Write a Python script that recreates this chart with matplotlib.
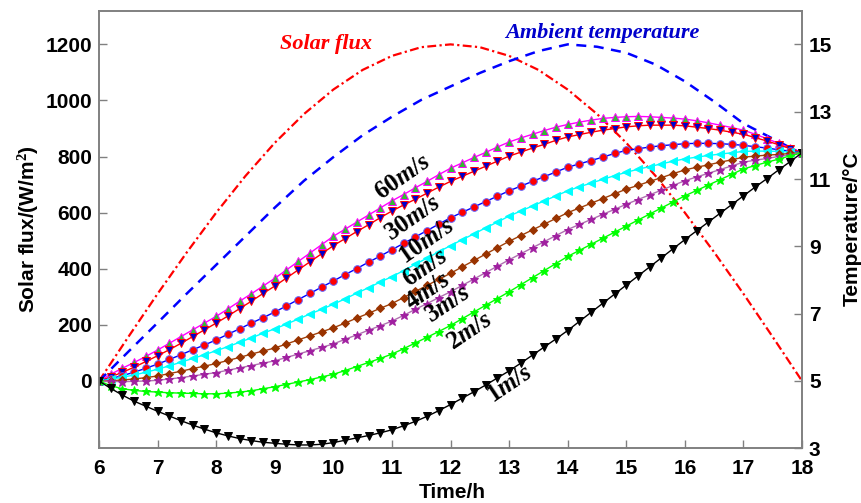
import matplotlib.pyplot as plt

# time axis (h)
hours = [6 + 0.2 * i for i in range(61)]
hours_half = [6 + 0.5 * i for i in range(25)]

# solar flux (W/m2), read every 0.5 h
solar = [0, 157, 311, 459, 600, 731, 849, 952, 1039, 1109, 1159, 1190, 1200,
         1190, 1159, 1109, 1039, 952, 849, 731, 600, 459, 311, 157, 0]

# ambient temperature (C), read every 0.5 h
ambient = [5.0, 5.87, 6.73, 7.6, 8.45, 9.3, 10.15, 10.95, 11.65, 12.3, 12.85, 13.35, 13.75,
           14.15, 14.5, 14.8, 15.0, 14.93, 14.75, 14.4, 13.9, 13.3, 12.65, 12.2, 11.75]

# temperatures for each wind speed, read every 0.2 h
t60 = [5.0, 5.2, 5.38, 5.55, 5.73, 5.92, 6.12, 6.32, 6.52, 6.72, 6.92,
       7.14, 7.37, 7.59, 7.82, 8.05, 8.3, 8.55, 8.8, 9.05, 9.3,
       9.51, 9.72, 9.93, 10.14, 10.35, 10.54, 10.74, 10.93, 11.13, 11.32,
       11.48, 11.64, 11.79, 11.95, 12.1, 12.22, 12.33, 12.44, 12.54, 12.62,
       12.69, 12.75, 12.8, 12.83, 12.85, 12.86, 12.85, 12.83, 12.81, 12.78,
       12.73, 12.67, 12.6, 12.53, 12.45, 12.33, 12.2, 12.06, 11.92, 11.78]
t30 = [5.0, 5.12, 5.26, 5.41, 5.58, 5.75, 5.93, 6.12, 6.32, 6.52, 6.72,
       6.93, 7.15, 7.37, 7.6, 7.82, 8.06, 8.3, 8.54, 8.78, 9.02,
       9.23, 9.44, 9.64, 9.85, 10.05, 10.23, 10.4, 10.58, 10.76, 10.93,
       11.08, 11.23, 11.38, 11.53, 11.68, 11.8, 11.92, 12.03, 12.15, 12.25,
       12.32, 12.39, 12.45, 12.5, 12.55, 12.58, 12.6, 12.6, 12.6, 12.58,
       12.54, 12.5, 12.45, 12.39, 12.33, 12.23, 12.13, 12.02, 11.9, 11.78]
t10 = [5.0, 5.07, 5.16, 5.26, 5.38, 5.5, 5.64, 5.78, 5.93, 6.07, 6.22,
       6.39, 6.55, 6.72, 6.88, 7.05, 7.23, 7.42, 7.6, 7.79, 7.97,
       8.16, 8.34, 8.53, 8.71, 8.9, 9.09, 9.28, 9.47, 9.66, 9.85,
       10.01, 10.17, 10.33, 10.49, 10.65, 10.79, 10.93, 11.07, 11.21, 11.35,
       11.45, 11.55, 11.65, 11.76, 11.85, 11.9, 11.95, 11.99, 12.02, 12.05,
       12.06, 12.06, 12.05, 12.03, 12.0, 11.96, 11.92, 11.87, 11.83, 11.78]
t6 = [5.0, 5.05, 5.11, 5.18, 5.26, 5.35, 5.45, 5.56, 5.67, 5.78, 5.9,
      6.02, 6.15, 6.28, 6.42, 6.55, 6.69, 6.84, 6.99, 7.13, 7.28,
      7.44, 7.61, 7.77, 7.94, 8.1, 8.28, 8.47, 8.65, 8.84, 9.02,
      9.2, 9.37, 9.55, 9.72, 9.9, 10.05, 10.2, 10.35, 10.5, 10.65,
      10.77, 10.88, 10.99, 11.1, 11.2, 11.29, 11.37, 11.45, 11.53, 11.6,
      11.65, 11.7, 11.74, 11.78, 11.82, 11.83, 11.83, 11.82, 11.8, 11.78]
t4 = [5.0, 5.01, 5.03, 5.06, 5.1, 5.15, 5.22, 5.29, 5.37, 5.44, 5.52,
      5.61, 5.7, 5.8, 5.89, 5.98, 6.1, 6.22, 6.34, 6.46, 6.58,
      6.72, 6.87, 7.01, 7.16, 7.3, 7.48, 7.66, 7.84, 8.02, 8.2,
      8.39, 8.58, 8.77, 8.96, 9.15, 9.32, 9.49, 9.66, 9.83, 10.0,
      10.14, 10.28, 10.42, 10.56, 10.7, 10.81, 10.93, 11.04, 11.16, 11.27,
      11.35, 11.42, 11.5, 11.57, 11.65, 11.68, 11.71, 11.73, 11.76, 11.78]
t3 = [5.0, 4.99, 4.98, 4.99, 5.0, 5.02, 5.06, 5.1, 5.15, 5.2, 5.25,
      5.32, 5.39, 5.46, 5.53, 5.6, 5.7, 5.8, 5.9, 6.0, 6.1,
      6.24, 6.37, 6.51, 6.64, 6.78, 6.95, 7.13, 7.3, 7.48, 7.65,
      7.84, 8.03, 8.22, 8.41, 8.6, 8.78, 8.96, 9.14, 9.32, 9.5,
      9.65, 9.8, 9.95, 10.1, 10.25, 10.39, 10.53, 10.67, 10.81, 10.95,
      11.06, 11.17, 11.28, 11.39, 11.5, 11.56, 11.61, 11.67, 11.72, 11.78]
t2 = [5.0, 4.86, 4.77, 4.72, 4.69, 4.67, 4.65, 4.64, 4.63, 4.62, 4.62,
      4.64, 4.67, 4.71, 4.77, 4.83, 4.9, 4.97, 5.04, 5.12, 5.2,
      5.31, 5.43, 5.55, 5.67, 5.8, 5.96, 6.13, 6.3, 6.47, 6.65,
      6.85, 7.05, 7.25, 7.45, 7.65, 7.86, 8.07, 8.28, 8.49, 8.7,
      8.88, 9.06, 9.24, 9.42, 9.6, 9.78, 9.96, 10.14, 10.32, 10.5,
      10.66, 10.82, 10.98, 11.14, 11.3, 11.4, 11.5, 11.59, 11.69, 11.78]
t1 = [5.0, 4.78, 4.58, 4.4, 4.25, 4.1, 3.96, 3.82, 3.69, 3.57, 3.46,
      3.37, 3.29, 3.23, 3.18, 3.15, 3.12, 3.1, 3.1, 3.12, 3.17,
      3.24, 3.31, 3.38, 3.46, 3.55, 3.67, 3.8, 3.95, 4.12, 4.3,
      4.49, 4.68, 4.88, 5.09, 5.3, 5.53, 5.77, 6.01, 6.25, 6.5,
      6.77, 7.04, 7.31, 7.58, 7.85, 8.12, 8.39, 8.66, 8.93, 9.2,
      9.46, 9.72, 9.98, 10.24, 10.5, 10.76, 11.01, 11.27, 11.52, 11.78]

wind_labels = ['60', '30', '10', '6', '4', '3', '2', '1']
wind_series = [t60, t30, t10, t6, t4, t3, t2, t1]

# (line colour, marker, face colour, edge colour, size)
styles = [
    ('#ff00ff', '^', '#33bb33', '#ff00ff', 5.5),
    ('#ff0000', 'v', '#0000cc', '#ff0000', 5.5),
    ('#0000ff', 'o', '#ff0000', '#6060ff', 5.5),
    ('#00ffff', '<', '#00ffff', '#00ffff', 5.5),
    ('#a0400a', 'D', '#993300', '#993300', 4.3),
    ('#b070b0', '*', '#a020a0', '#a020a0', 6.3),
    ('#00ff00', '*', '#00ff00', '#00ff00', 6.3),
    ('#000000', 'v', '#000000', '#000000', 5.8),
]
# label position (h, C) and rotation
label_pos = [(11.19, 11.05, 35), (11.36, 9.85, 35), (11.6, 9.16, 35), (11.57, 8.35, 35),
             (11.62, 7.66, 34), (11.96, 7.3, 34), (12.33, 6.49, 34), (13.02, 4.9, 34)]

plt.rcParams['font.family'] = 'Liberation Sans'
plt.rcParams['mathtext.fontset'] = 'custom'
plt.rcParams['mathtext.it'] = 'Liberation Serif:italic:bold'
plt.rcParams['mathtext.rm'] = 'Liberation Serif:bold'

fig = plt.figure(figsize=(8.61, 5.03), dpi=100)
ax = fig.add_axes([0.115, 0.1087, 0.8165, 0.87])
ax2 = ax.twinx()

ax.plot(hours_half, solar, color='red', linestyle=(0, (4, 1.5, 1, 1.5)), linewidth=1.6)
ax2.plot(hours_half, ambient, color='#0000ff', linestyle=(0, (4, 3)), linewidth=1.8)

for vals, st in zip(wind_series, styles):
    ax2.plot(hours, vals, color=st[0], linewidth=1.0, marker=st[1], markersize=st[4],
             markerfacecolor=st[2], markeredgecolor=st[3], markeredgewidth=0.7)

for lab, (x, y, r) in zip(wind_labels, label_pos):
    ax2.text(x, y, lab + r'$m/s$', fontsize=18, fontfamily='Liberation Serif', fontweight='bold',
             rotation=r, ha='center', va='center')

ax.text(9.88, 1200, 'Solar flux', color='red', fontsize=16, fontfamily='Liberation Serif',
        fontweight='bold', fontstyle='italic', ha='center', va='center')
ax2.text(14.6, 15.35, 'Ambient temperature', color='#0000cc', fontsize=16,
         fontfamily='Liberation Serif', fontweight='bold', fontstyle='italic',
         ha='center', va='center')

ax.set_xlim(6, 18)
ax.set_ylim(-240, 1320)
ax2.set_ylim(3, 16)
ax.set_xticks(range(6, 19))
ax.set_yticks(range(0, 1201, 200))
ax2.set_yticks(range(3, 16, 2))

for a in (ax, ax2):
    for s in a.spines.values():
        s.set_color('#808080')
        s.set_linewidth(1.2)
ax.tick_params(axis='both', direction='in', length=6, width=1, color='#808080', labelsize=15)
ax.tick_params(axis='x', pad=8)
ax.tick_params(axis='y', pad=5)
ax2.tick_params(axis='y', direction='in', length=6, width=1, color='#808080', labelsize=15, pad=5)
for lab in ax.get_xticklabels() + ax.get_yticklabels() + ax2.get_yticklabels():
    lab.set_fontweight('bold')

fig.text(28 / 861, 1 - 229 / 503, 'Solar flux/(W/m$^2$)', rotation=90, ha='center', va='center',
         fontsize=15, fontweight='bold')
fig.text(852 / 861, 1 - 229 / 503, 'Temperature/\u00b0C', rotation=90, ha='center', va='center',
         fontsize=15, fontweight='bold')
fig.text(452 / 861, 1 - 493 / 503, 'Time/h', ha='center', va='center', fontsize=15, fontweight='bold')

fig.savefig('out.png', dpi=100)
